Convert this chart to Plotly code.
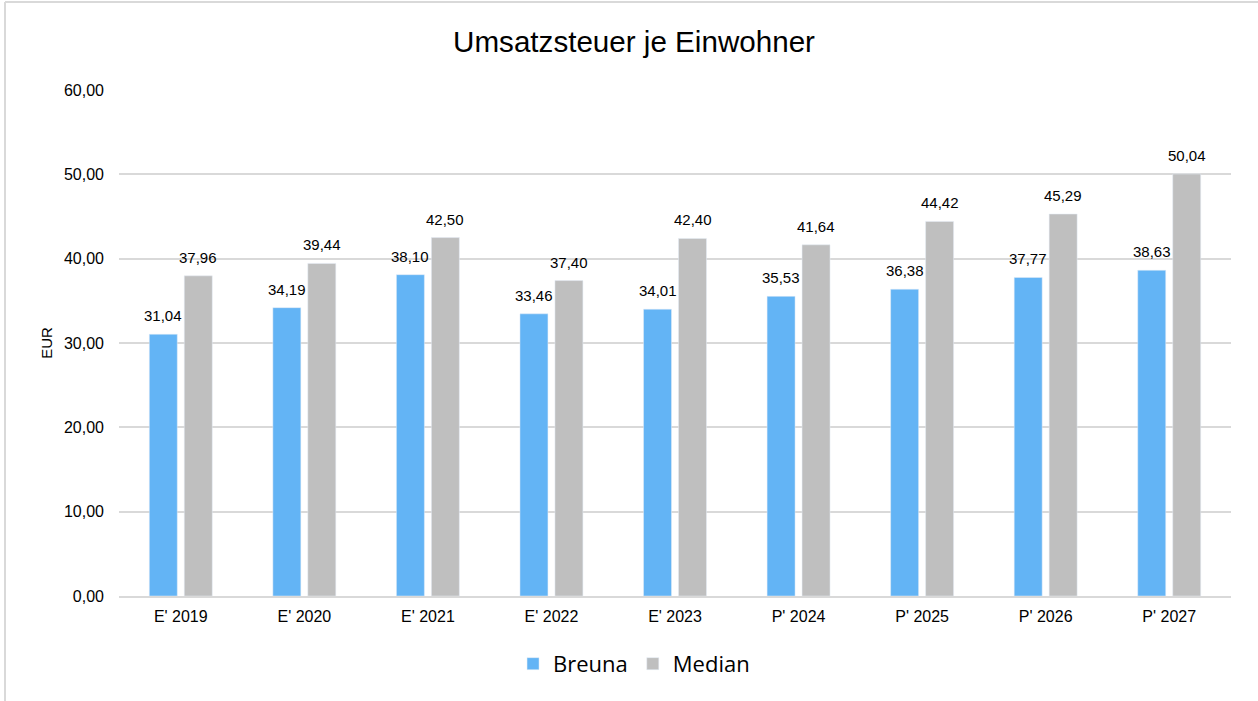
import plotly.graph_objects as go

categories = ["E' 2019", "E' 2020", "E' 2021", "E' 2022", "E' 2023",
              "P' 2024", "P' 2025", "P' 2026", "P' 2027"]
breuna = [31.04, 34.19, 38.10, 33.46, 34.01, 35.53, 36.38, 37.77, 38.63]
median = [37.96, 39.44, 42.50, 37.40, 42.40, 41.64, 44.42, 45.29, 50.04]
y_ticks = [0, 10, 20, 30, 40, 50, 60]

BLUE = "#63B4F5"
GRAY = "#BFBFBF"
GRID = "#D9D9D9"
FONT = "Arial"


def fmt(v):
    return f"{v:.2f}".replace(".", ",")


fig = go.Figure()
fig.add_trace(go.Bar(name="Breuna", x=categories, y=breuna, marker_color=BLUE))
fig.add_trace(go.Bar(name="Median", x=categories, y=median, marker_color=GRAY))

# value labels sitting above each bar
annotations = []
for series, shift in ((breuna, -17.5), (median, 17.5)):
    for cat, val in zip(categories, series):
        annotations.append(dict(
            x=cat, y=val, xref="x", yref="y", text=fmt(val), showarrow=False,
            yanchor="bottom", yshift=8, xshift=shift,
            font=dict(family=FONT, size=15, color="#000000")))

fig.update_layout(
    width=1258, height=701,
    margin=dict(l=119, r=27, t=90, b=105),
    paper_bgcolor="white", plot_bgcolor="white",
    barmode="group", bargap=0.434, bargroupgap=0.2,
    separators=",.",
    title=dict(text="Umsatzsteuer je Einwohner", x=0.504, xref="container",
               xanchor="center", y=0.94, yref="container", yanchor="middle",
               font=dict(family=FONT, size=29.6, color="#000000")),
    legend=dict(orientation="h", x=0.504, xref="container", xanchor="center",
                y=0.053, yref="container", yanchor="middle",
                font=dict(family="Open Sans", size=22, color="#000000"),
                itemwidth=30, traceorder="normal"),
    annotations=annotations,
    shapes=[
        dict(type="line", xref="paper", yref="paper",
             x0=(5 - 119) / 1112, x1=(5 - 119) / 1112,
             y0=1 + (90 - 2) / 506, y1=-(701 - 596) / 506 - 0.01,
             line=dict(color=GRID, width=2)),
        dict(type="line", xref="paper", yref="paper",
             x0=(5 - 119) / 1112, x1=1 + 40 / 1112,
             y0=1 + (90 - 2) / 506, y1=1 + (90 - 2) / 506,
             line=dict(color=GRID, width=2)),
    ],
)

fig.update_xaxes(
    showgrid=False, showline=True, linecolor=GRID, linewidth=2,
    ticks="", ticklabelstandoff=5,
    tickfont=dict(family=FONT, size=16, color="#000000"),
)
fig.update_yaxes(
    range=[0, 60], tickvals=y_ticks, tickformat=".2f",
    showgrid=True, gridcolor=GRID, gridwidth=1.5, zeroline=False,
    showline=False, ticks="", ticklabelstandoff=14,
    tickfont=dict(family=FONT, size=16, color="#000000"),
    title=dict(text="EUR", standoff=7,
               font=dict(family=FONT, size=15, color="#000000")),
)

fig.write_html("out.html")
